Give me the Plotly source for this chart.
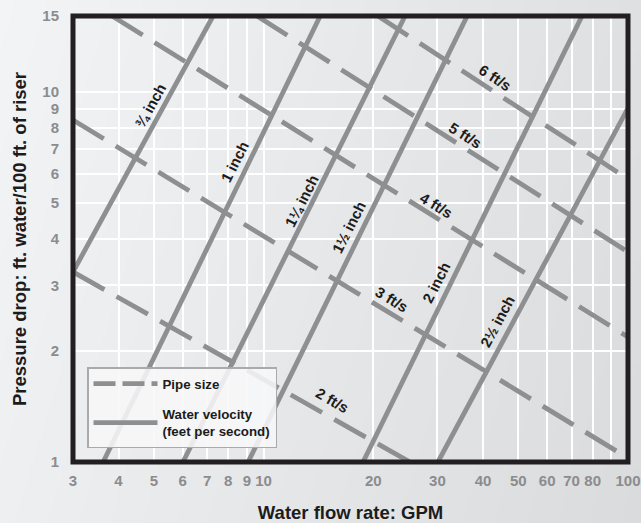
import base64
import math
import struct
import zlib

import plotly.graph_objects as go

# ---------------- data ----------------
x_tickvals = [3, 4, 5, 6, 7, 8, 9, 10, 20, 30, 40, 50, 60, 70, 80, 90, 100]
x_ticktext = ["3", "4", "5", "6", "7", "8", "9", "10", "20", "30", "40",
              "50", "60", "70", "80", "", "100"]
y_tickvals = [1, 2, 3, 4, 5, 6, 7, 8, 9, 10, 16]
y_ticktext = ["1", "2", "3", "4", "5", "6", "7", "8", "9", "10", "15"]

# pipe-size lines (solid): flow (GPM) and pressure drop at both ends
pipe_names = ["¾ inch", "1 inch", "1¼ inch", "1½ inch", "2 inch", "2½ inch"]
pipe_gpm = [[3.0, 7.27], [3.63, 14.3], [6.01, 24.45], [9.07, 36.2],
            [18.75, 74.8], [30.1, 100.0]]
pipe_drop = [[3.26, 16.0], [1.0, 16.0], [1.0, 16.0], [1.0, 16.0],
             [1.0, 16.0], [1.0, 9.03]]

# water-velocity lines (dashed)
vel_names = ["2 ft/s", "3 ft/s", "4 ft/s", "5 ft/s", "6 ft/s"]
vel_gpm = [[3.0, 25.2], [3.0, 100.0], [3.84, 100.0], [9.59, 100.0],
           [20.6, 100.0]]
vel_drop = [[3.26, 1.0], [8.38, 1.025], [16.0, 2.175], [16.0, 3.69],
            [16.0, 5.81]]

# label anchors (gpm, drop) and text angles
pipe_label_pos = [(4.88, 9.2), (8.30, 6.45), (12.75, 5.07), (17.2, 4.31),
                  (29.7, 3.06), (43.7, 2.40)]
pipe_label_angle = [-61, -63, -63, -63, -63, -62]
vel_label_pos = [(15.5, 1.47), (22.5, 2.74), (29.9, 4.94), (35.9, 7.63),
                 (43.2, 10.95)]
vel_label_angle = [30, 31, 31, 32, 33]

legend_names = ["Pipe size", "Water velocity<br>(feet per second)"]

# ---------------- style ----------------
FONT = "Liberation Sans, Arial, Helvetica, sans-serif"
LINE_GRAY = "#8e8f91"
TEXT_DARK = "#1c1c1c"
TICK_GRAY = "#8b8c8e"
W, H = 641, 523
ML, MR, MT, MB = 73, 13, 16, 61
PW, PH = W - ML - MR, H - MT - MB


def gradient_png(w, h, c0, c1):
    raw = bytearray()
    for j in range(h):
        raw.append(0)
        for i in range(w):
            t = 0.8 * i / (w - 1) + 0.2 * j / (h - 1)
            for k in range(3):
                raw.append(int(round(c0[k] + (c1[k] - c0[k]) * t)))

    def chunk(tag, data):
        body = tag + data
        return (struct.pack(">I", len(data)) + body +
                struct.pack(">I", zlib.crc32(body) & 0xFFFFFFFF))

    png = (b"\x89PNG\r\n\x1a\n" +
           chunk(b"IHDR", struct.pack(">IIBBBBB", w, h, 8, 2, 0, 0, 0)) +
           chunk(b"IDAT", zlib.compress(bytes(raw))) +
           chunk(b"IEND", b""))
    return "data:image/png;base64," + base64.b64encode(png).decode()


fig = go.Figure()

for name, xs, ys in zip(vel_names, vel_gpm, vel_drop):
    fig.add_trace(go.Scatter(x=xs, y=ys, mode="lines", name=name,
                             showlegend=False,
                             line=dict(color=LINE_GRAY, width=4.8,
                                       dash="36px,14px")))
for name, xs, ys in zip(pipe_names, pipe_gpm, pipe_drop):
    fig.add_trace(go.Scatter(x=xs, y=ys, mode="lines", name=name,
                             showlegend=False,
                             line=dict(color=LINE_GRAY, width=4.8)))

# legend entries (as in the reference)
fig.add_trace(go.Scatter(x=[None], y=[None], mode="lines",
                         name=legend_names[0], legendgroup="a",
                         line=dict(color=LINE_GRAY, width=4.8,
                                   dash="22px,7px")))
fig.add_trace(go.Scatter(x=[None], y=[None], mode="lines",
                         name=legend_names[1], legendgroup="b",
                         line=dict(color=LINE_GRAY, width=4.8)))

annotations = []
for txt, (gx, gy), ang in zip(pipe_names, pipe_label_pos, pipe_label_angle):
    annotations.append(dict(x=math.log10(gx), y=math.log10(gy), xref="x",
                            yref="y", text=txt, showarrow=False,
                            textangle=ang,
                            font=dict(family=FONT, size=15, color=TEXT_DARK,
                                      weight="bold")))
for txt, (gx, gy), ang in zip(vel_names, vel_label_pos, vel_label_angle):
    annotations.append(dict(x=math.log10(gx), y=math.log10(gy), xref="x",
                            yref="y", text=txt, showarrow=False,
                            textangle=ang,
                            font=dict(family=FONT, size=15, color=TEXT_DARK,
                                      weight="bold")))

fig.update_layout(
    width=W, height=H,
    margin=dict(l=ML, r=MR, t=MT, b=MB, pad=0, autoexpand=False),
    paper_bgcolor="#e8e9eb",
    plot_bgcolor="#e6e7e9",
    showlegend=True,
    legend=dict(x=(87 - ML) / PW, y=(462 - 367) / PH, xanchor="left",
                yanchor="top", bgcolor="rgba(247,247,248,0.88)",
                bordercolor="#a9aaac", borderwidth=1.5,
                font=dict(family=FONT, size=13.3, color=TEXT_DARK,
                          weight="bold"),
                itemwidth=64, tracegroupgap=10),
    xaxis=dict(type="log", range=[math.log10(3), 2], automargin=False,
               tickvals=x_tickvals, ticktext=x_ticktext,
               showgrid=True, gridcolor="#ffffff", gridwidth=2,
               ticks="", showline=False, zeroline=False,
               ticklabelstandoff=8,
               tickfont=dict(family=FONT, size=15, color=TICK_GRAY,
                             weight="bold"),
               title=dict(text="Water flow rate: GPM", standoff=20,
                          font=dict(family=FONT, size=18.5, color=TEXT_DARK,
                                    weight="bold"))),
    yaxis=dict(type="log", range=[0, math.log10(16)], automargin=False,
               tickvals=y_tickvals, ticktext=y_ticktext,
               showgrid=True, gridcolor="#ffffff", gridwidth=2,
               ticks="", showline=False, zeroline=False,
               ticklabelstandoff=13,
               tickfont=dict(family=FONT, size=15, color=TICK_GRAY,
                             weight="bold"),
               title=dict(text="Pressure drop: ft. water/100 ft. of riser",
                          standoff=10,
                          font=dict(family=FONT, size=18.5, color=TEXT_DARK,
                                    weight="bold"))),
    annotations=annotations,
    shapes=[dict(type="rect", xref="paper", yref="paper", x0=0, x1=1,
                 y0=0, y1=1, line=dict(color="#231f20", width=5),
                 layer="above")],
    images=[dict(source=gradient_png(160, 130, (243, 244, 246),
                                     (218, 219, 221)),
                 xref="paper", yref="paper", x=-ML / PW, y=1 + MT / PH,
                 sizex=W / PW, sizey=H / PH, xanchor="left", yanchor="top",
                 sizing="stretch", layer="below")],
)

fig.write_html("out.html",
               config={"displayModeBar": False},
               post_script="document.body.style.margin='0';"
                           "document.body.style.overflow='hidden';")
